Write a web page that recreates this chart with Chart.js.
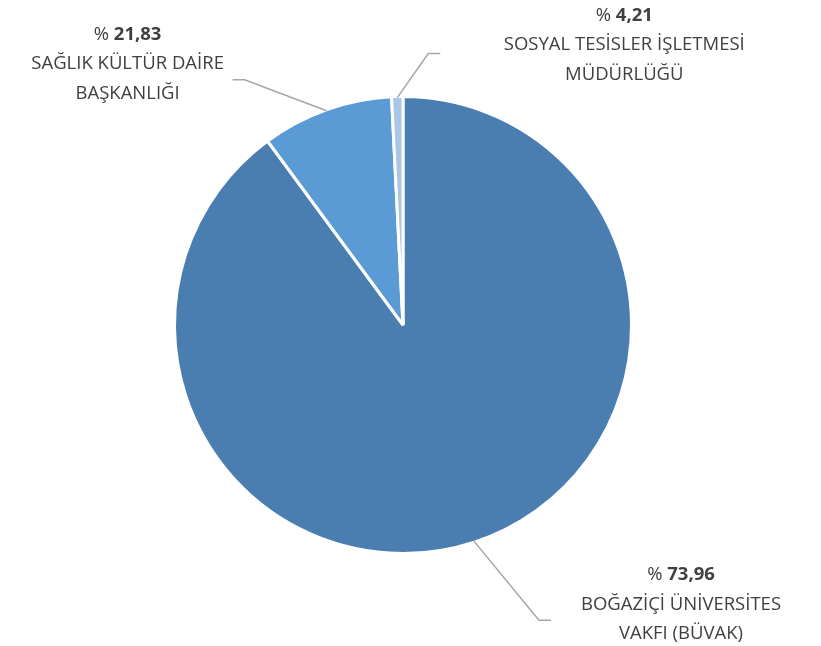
<!DOCTYPE html>
<html>
<head>
<meta charset="utf-8">
<script src="https://cdn.jsdelivr.net/npm/chart.js@4"></script>
<style>
    html, body { margin: 0; padding: 0; background: #fff; }
    #wrap { width: 821px; height: 646px; position: relative; }
</style>
</head>
<body>
<div id="wrap"><canvas id="pieChart" width="821" height="646"></canvas></div>
<script>
    // slice sizes as drawn in the picture, clockwise from 12 o'clock
    const categories = [
        ['BOĞAZİÇİ ÜNİVERSİTES', 'VAKFI (BÜVAK)'],
        ['SAĞLIK KÜLTÜR DAİRE', 'BAŞKANLIĞI'],
        ['SOSYAL TESİSLER İŞLETMESİ', 'MÜDÜRLÜĞÜ']
    ];
    const sliceValues = [89.9, 9.3, 0.8];
    const percentLabels = ['73,96', '21,83', '4,21'];
    const sliceColors = ['#4A7EB0', '#5B9BD5', '#A9C5E8'];

    // callout layout: bend point relative to slice edge, label centre relative to bend
    const calloutBend = [[65, 79, 12], [-82, -31, -12], [31, -44, 12]];
    const calloutText = [[142, -45], [-117, -45], [196, -38]];

    const calloutPlugin = {
        id: 'calloutLabels',
        afterDatasetsDraw(chart) {
            const ctx = chart.ctx;
            const meta = chart.getDatasetMeta(0);
            meta.data.forEach(function(arc, i) {
                const mid = (arc.startAngle + arc.endAngle) / 2;
                const r = arc.outerRadius - 1;
                const sx = arc.x + Math.cos(mid) * r;
                const sy = arc.y + Math.sin(mid) * r;
                const bx = sx + calloutBend[i][0];
                const by = sy + calloutBend[i][1];
                const ex = bx + calloutBend[i][2];

                ctx.save();
                ctx.strokeStyle = '#A6A6A6';
                ctx.lineWidth = 1.5;
                ctx.beginPath();
                ctx.moveTo(sx, sy);
                ctx.lineTo(bx, by);
                ctx.lineTo(ex, by);
                ctx.stroke();

                const tx = bx + calloutText[i][0];
                let ty = by + calloutText[i][1];
                ctx.fillStyle = '#404040';
                ctx.textBaseline = 'middle';

                // first line: "% " normal + bold number
                const normalFont = '18.5px "Open Sans", sans-serif';
                const boldFont = 'bold 18.5px "Open Sans", sans-serif';
                ctx.font = normalFont;
                const w1 = ctx.measureText('% ').width;
                ctx.font = boldFont;
                const w2 = ctx.measureText(percentLabels[i]).width;
                const x0 = tx - (w1 + w2) / 2;
                ctx.textAlign = 'left';
                ctx.font = normalFont;
                ctx.fillText('% ', x0, ty);
                ctx.font = boldFont;
                ctx.fillText(percentLabels[i], x0 + w1, ty);

                ctx.font = normalFont;
                ctx.textAlign = 'center';
                categories[i].forEach(function(line) {
                    ty += 29.5;
                    ctx.fillText(line, tx, ty);
                });
                ctx.restore();
            });
        }
    };

    new Chart(document.getElementById('pieChart').getContext('2d'), {
        type: 'pie',
        data: {
            labels: categories.map(function(c) { return c.join(' '); }),
            datasets: [{
                data: sliceValues,
                backgroundColor: sliceColors,
                borderColor: '#FFFFFF',
                borderWidth: 3
            }]
        },
        options: {
            responsive: false,
            animation: false,
            layout: {
                padding: { top: 95, bottom: 91, left: 100, right: 115 }
            },
            plugins: {
                legend: { display: false },
                tooltip: { enabled: false }
            }
        },
        plugins: [calloutPlugin]
    });
</script>
</body>
</html>
